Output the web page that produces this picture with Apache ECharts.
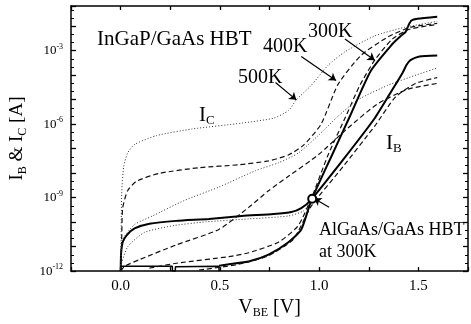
<!DOCTYPE html>
<html>
<head>
<meta charset="utf-8">
<title>IB and IC vs VBE</title>
<script src="https://cdn.jsdelivr.net/npm/echarts@6/dist/echarts.min.js"></script>
</head>
<body style="margin:0;background:#fff">
<div id="root" style="width:471px;height:324px"></div>
<script>
// V_BE [V] and log10(current [A])

// AlGaAs/GaAs HBT at 300K (solid)
var vFloor = [0, 0.001, 0.26, 0.261, 0.275, 0.276, 0.495, 0.496];
var lFloor = [-12, -11.8, -11.8, -12, -12, -11.82, -11.8, -12];
var vAlIc = [0.496, 0.545, 0.645, 0.745, 0.845, 0.91, 0.96, 1.065, 1.155, 1.26, 1.37, 1.41, 1.435, 1.45, 1.465, 1.495, 1.595];
var lAlIc = [-11.78, -11.72, -11.61, -11.33, -10.82, -10.30, -9.12, -7.26, -5.68, -3.83, -2.72, -2.41, -2.25, -1.97, -1.77, -1.70, -1.62];
var vAlIb = [0, 0.002, 0.01, 0.03, 0.07, 0.145, 0.28, 0.445, 0.61, 0.77, 0.86, 0.91, 0.96, 1.12, 1.28, 1.37, 1.42, 1.44, 1.46, 1.505, 1.595];
var lAlIb = [-12, -11.29, -10.82, -10.54, -10.26, -10.07, -9.95, -9.87, -9.75, -9.67, -9.59, -9.43, -9.08, -7.46, -5.76, -4.58, -3.91, -3.59, -3.39, -3.24, -3.20];
var vAlIb2 = [0, 0.035, 0.12, 0.27, 0.43, 0.645, 0.845, 0.92, 0.96, 1.0];
var lAlIb2 = [-11.8, -11.01, -10.42, -10.14, -9.99, -9.87, -9.75, -9.55, -9.16, -8.4];

// InGaP/GaAs HBT, I_C
var v300Ic = [0.145, 0.28, 0.545, 0.645, 0.795, 0.895, 0.97, 1.045, 1.13, 1.205, 1.28, 1.37, 1.455, 1.595];
var l300Ic = [-11.88, -11.68, -11.41, -11.25, -10.82, -10.14, -8.84, -7.26, -5.76, -4.42, -3.39, -2.52, -2.13, -1.93];
var v400Ic = [0, 0.005, 0.01, 0.035, 0.08, 0.195, 0.395, 0.595, 0.745, 0.845, 0.92, 1.01, 1.095, 1.21, 1.345, 1.46, 1.595];
var l400Ic = [-12, -10.70, -9.43, -8.72, -8.33, -8.01, -7.78, -7.66, -7.50, -7.26, -6.87, -6.0, -4.38, -3.20, -2.45, -2.05, -1.89];
var v500Ic = [0, 0.002, 0.005, 0.015, 0.035, 0.07, 0.18, 0.36, 0.61, 0.77, 0.845, 0.885, 0.96, 1.045, 1.13, 1.28, 1.43, 1.595];
var l500Ic = [-12, -10.82, -8.84, -7.74, -7.18, -6.83, -6.47, -6.20, -5.96, -5.76, -5.45, -5.01, -4.42, -3.6, -3.05, -2.4, -2.05, -1.81];

// InGaP/GaAs HBT, I_B
var v300Ib = [0.395, 0.595, 0.745, 0.87, 0.96, 1.12, 1.28, 1.385, 1.485, 1.595];
var l300Ib = [-11.96, -11.72, -11.37, -10.70, -9.35, -7.74, -6.08, -4.89, -4.34, -4.10];
var v400Ib = [0, 0.02, 0.095, 0.28, 0.495, 0.645, 0.745, 0.845, 0.995, 1.145, 1.295, 1.445, 1.595];
var l400Ib = [-12, -11.80, -11.53, -10.93, -10.30, -9.40, -8.72, -8.13, -7.26, -6.16, -5.17, -4.58, -4.34];
var v500Ib = [0, 0.002, 0.01, 0.07, 0.16, 0.32, 0.495, 0.68, 0.795, 0.895, 0.995, 1.095, 1.195, 1.345, 1.495, 1.595];
var l500Ib = [-12, -11.29, -10.70, -10.10, -9.75, -9.12, -8.57, -7.90, -7.58, -7.18, -6.47, -5.68, -5.01, -4.42, -3.98, -3.71];

var xTicks = [0, 0.5, 1.0, 1.5];
var yTickExp = [-12, -9, -6, -3];

var FONT = 'Liberation Serif';

function pts(v, l) {
    return v.map(function(x, i) { return [x, l[i]]; });
}

var solid = { color: '#000', width: 2, type: 'solid' };
var dash = { color: '#111', width: 1.2, type: [5, 3] };
var dot = { color: '#333', width: 1, type: [1, 2] };

function line(name, v, l, style, smooth) {
    return {
        name: name,
        type: 'line',
        data: pts(v, l),
        symbol: 'none',
        smooth: smooth === undefined ? 0.2 : smooth,
        lineStyle: style,
        silent: true,
        animation: false
    };
}

// annotation arrows, in data coords [V, log10 I]
var arrows = [
    [[1.13, -2.53], [1.28, -3.39]],
    [[0.91, -3.24], [1.085, -4.22]],
    [[0.78, -4.30], [0.885, -5.01]],
    [[1.05, -9.39], [0.975, -9.04]]
];

var myChart = echarts.init(document.getElementById('root'));

var yCommon = {
    type: 'value', min: -12, max: -1.18, interval: 1,
    axisLine: { show: true, onZero: false, lineStyle: { color: '#000', width: 1.5 } },
    axisTick: { inside: true, length: 5, lineStyle: { color: '#000', width: 1.3 } },
    minorTick: { show: true, splitNumber: 3, length: 3, lineStyle: { color: '#000' } },
    splitLine: { show: false }
};
var xCommon = {
    type: 'value', min: -0.25, max: 1.75, interval: 0.25,
    axisLine: { show: true, onZero: false, lineStyle: { color: '#000', width: 1.5 } },
    axisTick: { inside: true, length: 4, lineStyle: { color: '#000', width: 1.3 } },
    splitLine: { show: false }
};

var series = [
    line('floor', vFloor, lFloor, { color: '#000', width: 1.5 }, false),
    line('AlGaAs IC', vAlIc, lAlIc, solid),
    line('AlGaAs IB', vAlIb, lAlIb, solid),
    line('AlGaAs IB2', vAlIb2, lAlIb2, dot),
    line('300K IC', v300Ic, l300Ic, dash),
    line('400K IC', v400Ic, l400Ic, dash),
    line('500K IC', v500Ic, l500Ic, dot),
    line('300K IB', v300Ib, l300Ib, dash),
    line('400K IB', v400Ib, l400Ib, dash),
    line('500K IB', v500Ib, l500Ib, dot)
];
series[1].markLine = {
    silent: true,
    symbol: ['none', 'arrow'],
    symbolSize: 7,
    label: { show: false },
    lineStyle: { color: '#000', width: 1.2, type: 'solid' },
    data: arrows.map(function(a) { return [{ coord: a[0] }, { coord: a[1] }]; })
};
series[1].markPoint = {
    silent: true,
    symbol: 'emptyCircle',
    symbolSize: 8,
    itemStyle: { color: '#000', borderWidth: 1.2 },
    label: { show: false },
    data: [{ coord: [0.965, -9.05] }]
};

option = {
    backgroundColor: '#fff',
    animation: false,
    grid: { left: 71, right: 1, top: 6, bottom: 44 },
    xAxis: [
        Object.assign({}, xCommon, {
            position: 'bottom',
            name: '{m|V}{s|BE}{m| [V]}',
            nameLocation: 'middle',
            nameGap: 16,
            nameTextStyle: {
                color: '#000', fontFamily: FONT, fontSize: 20,
                rich: {
                    m: { fontFamily: FONT, fontSize: 20, color: '#000' },
                    s: { fontFamily: FONT, fontSize: 12, color: '#000', padding: [10, 0, 0, 0] }
                }
            },
            axisLabel: {
                margin: 7, color: '#000', fontFamily: FONT, fontSize: 15,
                formatter: function(v) {
                    for (var i = 0; i < xTicks.length; i++) {
                        if (Math.abs(v - xTicks[i]) < 1e-6) return v.toFixed(1);
                    }
                    return '';
                }
            }
        }),
        Object.assign({}, xCommon, { position: 'top', axisLabel: { show: false } })
    ],
    yAxis: [
        Object.assign({}, yCommon, {
            position: 'left',
            name: '{m|I}{s|B}{m| & I}{s|C}{m| [A]}',
            nameLocation: 'middle',
            nameRotate: 90,
            nameGap: 37,
            nameTextStyle: {
                color: '#000', fontFamily: FONT, fontSize: 19,
                rich: {
                    m: { fontFamily: FONT, fontSize: 19, color: '#000' },
                    s: { fontFamily: FONT, fontSize: 12, color: '#000', padding: [10, 0, 0, 0] }
                }
            },
            axisLabel: {
                margin: 8, color: '#000', fontFamily: FONT, fontSize: 13,
                formatter: function(v) {
                    for (var i = 0; i < yTickExp.length; i++) {
                        if (Math.abs(v - yTickExp[i]) < 1e-6) return '{b|10}{s|' + yTickExp[i] + '}';
                    }
                    return '';
                },
                rich: {
                    b: { fontFamily: FONT, fontSize: 13, color: '#000' },
                    s: { fontFamily: FONT, fontSize: 8, color: '#000', padding: [0, 0, 8, 0] }
                }
            }
        }),
        Object.assign({}, yCommon, { position: 'right', axisLabel: { show: false } })
    ],
    graphic: [
        { type: 'text', x: 97, y: 39, style: { text: 'InGaP/GaAs HBT', font: '21px "Liberation Serif"', fill: '#000', verticalAlign: 'middle' } },
        { type: 'text', x: 308, y: 32, style: { text: '300K', font: '20px "Liberation Serif"', fill: '#000', verticalAlign: 'middle' } },
        { type: 'text', x: 263, y: 47, style: { text: '400K', font: '20px "Liberation Serif"', fill: '#000', verticalAlign: 'middle' } },
        { type: 'text', x: 238, y: 78, style: { text: '500K', font: '20px "Liberation Serif"', fill: '#000', verticalAlign: 'middle' } },
        { type: 'text', x: 319, y: 230, style: { text: 'AlGaAs/GaAs HBT', font: '18px "Liberation Serif"', fill: '#000', verticalAlign: 'middle' } },
        { type: 'text', x: 319, y: 252, style: { text: 'at 300K', font: '18px "Liberation Serif"', fill: '#000', verticalAlign: 'middle' } },
        { type: 'text', x: 199, y: 115, style: {
            text: '{m|I}{s|C}', verticalAlign: 'middle',
            rich: { m: { fontFamily: FONT, fontSize: 21, fill: '#000' }, s: { fontFamily: FONT, fontSize: 13, fill: '#000', padding: [11, 0, 0, 0] } }
        } },
        { type: 'text', x: 386, y: 143, style: {
            text: '{m|I}{s|B}', verticalAlign: 'middle',
            rich: { m: { fontFamily: FONT, fontSize: 21, fill: '#000' }, s: { fontFamily: FONT, fontSize: 13, fill: '#000', padding: [11, 0, 0, 0] } }
        } }
    ],
    series: series
};
myChart.setOption(option, true);
</script>
</body>
</html>
